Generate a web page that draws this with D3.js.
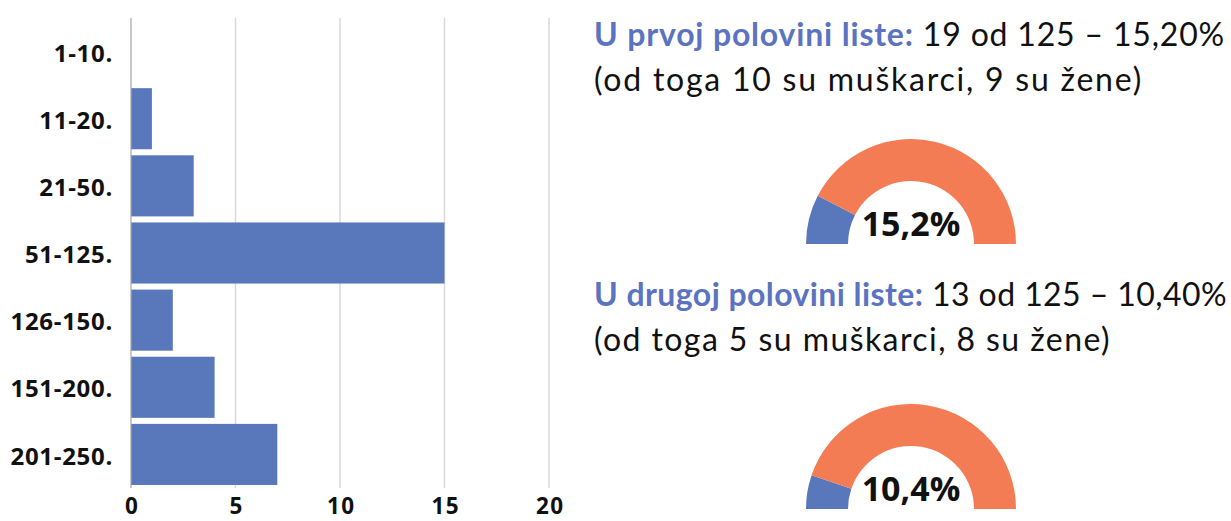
<!DOCTYPE html>
<html><head><meta charset="utf-8">
<script src="https://cdn.jsdelivr.net/npm/d3@7"></script>
<style>body{margin:0;background:#fff}</style>
</head><body>
<svg id="c" width="1231" height="521"></svg>
<script>
const categories = ["1-10.","11-20.","21-50.","51-125.","126-150.","151-200.","201-250."];
const counts = [0,1,3,15,2,4,7];
const xTicks = [0,5,10,15,20];
const gaugeValues = [15.2, 10.4];
const gaugeLabels = ["15,2%","10,4%"];
const headings = ["U prvoj polovini liste:","U drugoj polovini liste:"];
const headingRest = [" 19 od 125 – 15,20%"," 13 od 125 – 10,40%"];
const subLines = ["(od toga 10 su muškarci, 9 su žene)","(od toga 5 su muškarci, 8 su žene)"];

const svg = d3.select("#c");
const blue = "#5878bb", orange = "#f47c55";
const x = d3.scaleLinear().domain([0,20]).range([131,549]);
const y = d3.scaleBand().domain(categories).range([18,488]).paddingInner(0.09).paddingOuter(0.045);

svg.append("g").selectAll("line").data(xTicks.slice(1)).join("line")
  .attr("x1",d=>x(d)).attr("x2",d=>x(d)).attr("y1",18).attr("y2",488)
  .attr("stroke","#d9d9d9").attr("stroke-width",1.5);

svg.append("g").selectAll("rect").data(counts).join("rect")
  .attr("x",x(0)).attr("y",(d,i)=>y(categories[i]))
  .attr("width",d=>x(d)-x(0)).attr("height",y.bandwidth()).attr("fill",blue);

svg.append("line").attr("x1",x(0)).attr("x2",x(0)).attr("y1",18).attr("y2",488)
  .attr("stroke","#a6a6a6").attr("stroke-width",1.2);

const xa = svg.append("g").attr("transform","translate(0,488)")
  .call(d3.axisBottom(x).tickValues(xTicks).tickSize(0).tickPadding(0));
xa.select(".domain").remove();
xa.selectAll("text").attr("font-family","Open Sans, sans-serif").attr("font-weight","bold")
  .attr("font-size",22.5).attr("letter-spacing",1.5).attr("dx",0.75).attr("fill","#111")
  .attr("y",26).attr("dy",0);

const ya = svg.append("g").attr("transform","translate(131,0)")
  .call(d3.axisLeft(y).tickSize(0).tickPadding(18));
ya.select(".domain").remove();
ya.selectAll("text").attr("font-family","Open Sans, sans-serif").attr("font-weight","bold")
  .attr("font-size",24).attr("letter-spacing",0.7).attr("fill","#111").attr("dy","0.42em");

// right side
const textY = [[46,91],[306,351]];
const targetW = [[631,549],[633,517]];
const gaugeCy = [244, 509];
const arc = d3.arc().innerRadius(63).outerRadius(105);
function fit(t, w){
  const n = t.text().length;
  const cur = t.node().getComputedTextLength();
  t.attr("letter-spacing", ((w-cur)/n).toFixed(3));
}
headings.forEach((h,i)=>{
  const t = svg.append("text").attr("x",594).attr("y",textY[i][0])
    .attr("font-family","Lato, sans-serif").attr("font-size",32).attr("fill","#111");
  t.append("tspan").attr("font-weight","bold").attr("fill","#5b73c0").text(h);
  t.append("tspan").text(headingRest[i]);
  fit(t, targetW[i][0]);
  const s = svg.append("text").attr("x",594).attr("y",textY[i][1])
    .attr("font-family","Lato, sans-serif").attr("font-size",32).attr("fill","#111").text(subLines[i]);
  fit(s, targetW[i][1]);

  const g = svg.append("g").attr("transform",`translate(911,${gaugeCy[i]})`);
  const a = d3.scaleLinear().domain([0,100]).range([-Math.PI/2, Math.PI/2]);
  g.append("path").attr("d",arc({startAngle:a(0),endAngle:a(gaugeValues[i])})).attr("fill",blue);
  g.append("path").attr("d",arc({startAngle:a(gaugeValues[i]),endAngle:a(100)})).attr("fill",orange);
  g.append("text").attr("x",0).attr("y",-8).attr("text-anchor","middle")
    .attr("font-family","Open Sans, sans-serif").attr("font-weight","bold").attr("font-size",34)
    .attr("fill","#111").text(gaugeLabels[i]);
});
</script>
</body></html>
